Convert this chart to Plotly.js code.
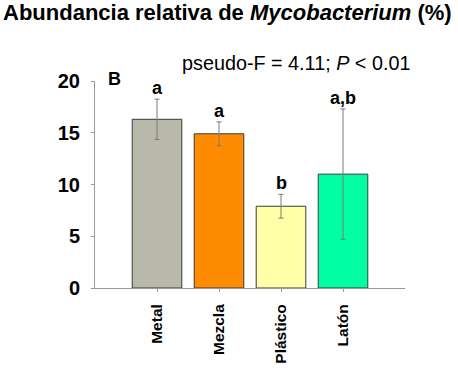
<!DOCTYPE html>
<html>
<head>
<meta charset="utf-8">
<script src="https://cdn.plot.ly/plotly-3.0.1.min.js"></script>
<style>html,body{margin:0;padding:0;background:#fff;}#chart{width:458px;height:372px;}</style>
</head>
<body>
<div id="chart"></div>
<script>
const categories = ["Metal", "Mezcla", "Plástico", "Latón"];
const means = [16.3, 14.9, 7.9, 11.0];
const errors = [1.95, 1.15, 1.15, 6.3];
const groupLetters = ["a", "a", "b", "a,b"];
const barColors = ["#b9b9ab", "#ff8c00", "#ffffa8", "#00ffa2"];
const yTicks = [0, 5, 10, 15, 20];

const trace = {
  type: "bar",
  x: categories,
  y: means,
  width: 0.8,
  marker: {color: barColors, line: {color: "#3a3a3a", width: 1}},
  error_y: {type: "data", array: errors, visible: true, color: "#7a7a7a", thickness: 1, width: 2.5},
  hoverinfo: "none"
};

const FONT = "Liberation Sans, Arial, sans-serif";
const L = 95, R = 53, T = 81, B = 84, W = 458, H = 372;
const pw = W - L - R, ph = H - T - B;

const annotations = categories.map((c, i) => ({
  x: c, y: means[i] + errors[i], xref: "x", yref: "y",
  text: "<b>" + groupLetters[i] + "</b>", showarrow: false,
  yanchor: "bottom", yshift: -1,
  font: {family: FONT, size: 18, color: "#000"}
}));
annotations.push({
  x: (106 - L) / pw, y: 1 - (79 - T) / ph, xref: "paper", yref: "paper",
  xanchor: "left", yanchor: "middle",
  text: "<b>B</b>", showarrow: false,
  font: {family: FONT, size: 18, color: "#000"}
});
annotations.push({
  x: (296 - L) / pw, y: 1 - (63 - T) / ph, xref: "paper", yref: "paper",
  xanchor: "center", yanchor: "middle",
  text: "pseudo-F = 4.11; <i>P</i> < 0.01", showarrow: false,
  font: {family: FONT, size: 19.8, color: "#000"}
});
// title as a paper-positioned annotation so its box stays inside the page
annotations.push({
  x: 1 / W, y: 1 - 13 / H, xref: "paper", yref: "paper",
  xanchor: "left", yanchor: "middle",
  text: "<b>Abundancia relativa de <i>Mycobacterium</i> (%)</b>", showarrow: false,
  font: {family: FONT, size: 22, color: "#000"}
});
// convert container-fraction coords to paper coords for the title annotation
const ta = annotations[annotations.length - 1];
ta.x = (1 - L) / pw;
ta.y = 1 + (T - 13) / ph;

const layout = {
  width: W, height: H,
  margin: {l: L, r: R, t: T, b: B, pad: 0},
  paper_bgcolor: "#fff", plot_bgcolor: "#fff",
  showlegend: false,
  xaxis: {
    range: [-1, 4], showgrid: false, zeroline: false,
    showline: true, linecolor: "#9a9a9a", linewidth: 1,
    ticks: "outside", ticklen: 3, tickcolor: "#9a9a9a",
    tickangle: -90, tickfont: {family: FONT, size: 15.5, color: "#000", weight: "bold"},
    ticklabelstandoff: 6,
    fixedrange: true
  },
  yaxis: {
    range: [0, 20], tickvals: yTicks, showgrid: false, zeroline: false,
    showline: true, linecolor: "#9a9a9a", linewidth: 1,
    ticks: "outside", ticklen: 3, tickcolor: "#9a9a9a",
    tickfont: {family: FONT, size: 20, color: "#000", weight: "bold"},
    ticklabelstandoff: 7,
    fixedrange: true
  },
  annotations: annotations
};

Plotly.newPlot("chart", [trace], layout, {displayModeBar: false, staticPlot: true});
</script>
</body>
</html>
